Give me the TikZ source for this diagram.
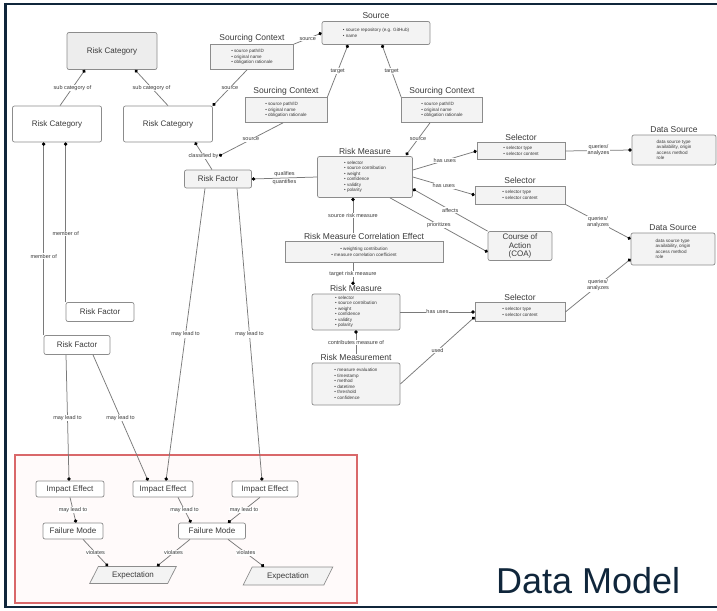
\documentclass[tikz,border=0pt]{standalone}
\usepackage{fontspec}
\setmainfont{Liberation Sans}
\usetikzlibrary{arrows.meta,positioning,shapes.geometric}
\definecolor{dmnavy}{HTML}{10263B}
\definecolor{dmgray}{HTML}{7A7A7A}
\definecolor{dmline}{HTML}{8C8C8C}
\definecolor{dmfill}{HTML}{F3F3F3}
\definecolor{dmtext}{HTML}{3A3A3A}
\definecolor{dmred}{HTML}{D9686A}

\begin{document}
\begin{tikzpicture}[x=1pt, y=-1pt,
    every node/.style={text=dmtext},
    entity/.style={draw=dmline, rounded corners=2pt, fill=dmfill, line width=0.7pt, font=\fontsize{8}{9}\selectfont, inner sep=1pt},
    box/.style={draw=dmline, rounded corners=2pt, fill=dmfill, line width=0.7pt, font=\fontsize{4.6}{5.5}\selectfont, align=left, inner sep=1pt},
    ttl/.style={font=\fontsize{8.5}{9}\selectfont, inner sep=0.5pt},
    lbl/.style={font=\fontsize{5.5}{6}\selectfont, fill=white, inner sep=0.6pt, align=center},
    link/.style={draw=dmgray, line width=0.75pt, -{Circle[length=3.4pt, color=black]}}]
      \useasboundingbox (0,0) rectangle (717,610);
      \fill[white] (0,0) rectangle (717,610);
      % slide frame
      \draw[dmnavy, line width=2pt] (717,4) -- (5,4) -- (5,607) -- (717,607);
      \draw[dmnavy, line width=3pt] (5.5,3) -- (5.5,608);
      \draw[dmred, line width=1.4pt, fill=red!2] (15,455) rectangle (357,603);

      % categories and factors
      \node[entity, minimum width=90, minimum height=37, fill=gray!14] (rcTop) at (112,51) {Risk Category};
      \node[entity, minimum width=89, minimum height=36, fill=white] (rcLeft) at (57,124) {Risk Category};
      \node[entity, minimum width=89, minimum height=36, fill=white] (rcMid) at (168,124) {Risk Category};
      \node[entity, minimum width=67, minimum height=18] (rfMid) at (218,179) {Risk Factor};
      \node[entity, minimum width=68, minimum height=19, fill=white] (rfA) at (100,312) {Risk Factor};
      \node[entity, minimum width=66, minimum height=19, fill=white] (rfB) at (77,345) {Risk Factor};
      \coordinate (rfHook) at (219,156);

      % sources
      \node[box, rounded corners=0pt, minimum width=83, minimum height=25] (scA) at (252,57) {• source path/ID\\ • original name\\ • obligation rationale};
      \node[ttl, above=1pt of scA] (scAt) {Sourcing Context};
      \node[box, minimum width=108, minimum height=23] (src) at (376,33) {• source repository (e.g. GitHub)\\ • name};
      \node[ttl, above=2pt of src] (srcT) {Source};
      \node[box, rounded corners=0pt, minimum width=82, minimum height=25] (scB) at (286,110) {• source path/ID\\ • original name\\ • obligation rationale};
      \node[ttl, above=1pt of scB] (scBt) {Sourcing Context};
      \node[box, rounded corners=0pt, minimum width=81, minimum height=25] (scC) at (442,110) {• source path/ID\\ • original name\\ • obligation rationale};
      \node[ttl, above=1pt of scC] (scCt) {Sourcing Context};

      % measures
      \node[box, minimum width=95, minimum height=41] (rmA) at (365,177) {• selector\\ • source contribution\\ • weight\\ • confidence\\ • validity\\ • polarity};
      \node[ttl, above=1pt of rmA] (rmAt) {Risk Measure};
      \node[box, align=center, rounded corners=0pt, minimum width=158, minimum height=21] (rmcE) at (364,252) {• weighting contribution\\ • measure correlation coefficient};
      \node[ttl, above=1pt of rmcE] (rmcEt) {Risk Measure Correlation Effect};
      \node[box, minimum width=88, minimum height=36] (rmB) at (356,312) {• selector\\ • source contribution\\ • weight\\ • confidence\\ • validity\\ • polarity};
      \node[ttl, above=1pt of rmB] (rmBt) {Risk Measure};
      \node[box, minimum width=88, minimum height=42] (rmt) at (356,384) {• measure evaluation\\ • timestamp\\ • method\\ • datetime\\ • threshold\\ • confidence};
      \node[ttl, above=1pt of rmt] (rmtT) {Risk Measurement};

      % selectors and data sources
      \node[box, rounded corners=0pt, minimum width=88, minimum height=17] (selA) at (521,151) {• selector type\\ • selector content};
      \node[ttl, above=1pt of selA] (selAt) {Selector};
      \node[box, rounded corners=0pt, minimum width=90, minimum height=18] (selB) at (520,195) {• selector type\\ • selector content};
      \node[ttl, above=1pt of selB] (selBt) {Selector};
      \node[box, rounded corners=0pt, minimum width=90, minimum height=19] (selC) at (520,312) {• selector type\\ • selector content};
      \node[ttl, above=1pt of selC] (selCt) {Selector};
      \node[entity, align=center, font=\fontsize{8}{8.8}\selectfont, inner sep=0.5pt, minimum width=64, minimum height=29] (coa) at (520,246) {Course of\\Action\\(COA)};
      \node[box, minimum width=84, minimum height=30] (dsA) at (674,150) {data source type\\ availability, origin\\ access method\\ role};
      \node[ttl, above=1pt of dsA] (dsAt) {Data Source};
      \node[box, minimum width=84, minimum height=32] (dsB) at (673,249) {data source type\\ availability, origin\\ access method\\ role};
      \node[ttl, above=1pt of dsB] (dsBt) {Data Source};

      % effects
      \node[entity, fill=white, minimum width=68, minimum height=16] (ieA) at (70,489) {Impact Effect};
      \node[entity, fill=white, minimum width=60, minimum height=16] (ieB) at (163,489) {Impact Effect};
      \node[entity, fill=white, minimum width=66, minimum height=16] (ieC) at (265,489) {Impact Effect};
      \node[entity, fill=white, minimum width=60, minimum height=16] (fmA) at (73,531) {Failure Mode};
      \node[entity, fill=white, minimum width=67, minimum height=16] (fmB) at (212,531) {Failure Mode};
      \node[entity, trapezium, trapezium left angle=60, trapezium right angle=120, trapezium stretches=true, rounded corners=0pt, minimum width=87, minimum height=17] (exA) at (133,575) {Expectation};
      \node[entity, trapezium, trapezium left angle=60, trapezium right angle=120, trapezium stretches=true, rounded corners=0pt, minimum width=90, minimum height=18] (exB) at (288,576) {Expectation};

      \node[anchor=base west, font=\fontsize{36}{40}\selectfont, text=dmnavy, inner sep=0pt] (dmTitle) at (496,593) {Data Model};

      % links
      \draw[link] ([xshift=3]rcLeft.north) -- ([xshift=-27]rcTop.south) node[lbl, midway]{sub category of};
      \draw[link] (rcMid.north) -- ([xshift=23]rcTop.south) node[lbl, midway]{sub category of};
      \draw[link] ([xshift=-6]rfMid.north) -- ([xshift=27]rcMid.south) node[lbl, midway]{classified by};
      \draw[link] ([xshift=-5]scA.south) -- (rcMid.north east) node[lbl, midway]{source};
      \draw[link] (scA.north east) -- (src.west) node[lbl, midway]{source};
      \draw[link] ([xshift=-3]scB.south) -- (rfHook) node[lbl, midway]{source};
      \draw[link] (scB.north east) -- ([xshift=-28]src.south) node[lbl, midway]{target};
      \draw[link] (scC.north west) -- ([xshift=6]src.south) node[lbl, midway]{target};
      \draw[link] ([xshift=-12]scC.south) -- ([xshift=41]rmAt.south) node[lbl, midway]{source};
      \draw[link] (rmA.west) -- (rfMid.east) node[lbl, midway, above=0.5pt]{qualifies} node[lbl, midway, below=0.5pt]{quantifies};
      \draw[link] ([xshift=-11]rmcEt.north) -- ([xshift=-12]rmA.south) node[lbl, midway]{source risk measure};
      \draw[link] ([xshift=-11]rmcE.south) -- ([xshift=-3]rmBt.north) node[lbl, midway]{target risk measure};
      \draw[link] (rmtT.north) -- (rmB.south) node[lbl, midway]{contributes measure of};
      \draw[link] ([yshift=7]rmA.east) -- (selA.west) node[lbl, midway]{has uses};
      \draw[link] (rmA.east) -- (selB.west) node[lbl, midway]{has uses};
      \draw[link] (coa.north west) -- ([yshift=-12]rmA.east) node[lbl, midway]{affects};
      \draw[link] ([xshift=25]rmA.south) -- ([yshift=-6]coa.west) node[lbl, midway]{prioritizes};
      \draw[link] (selA.east) -- (dsA.west) node[lbl, midway]{queries/\\analyzes};
      \draw[link] (selB.south east) -- ([yshift=10]dsB.west) node[lbl, midway]{queries/\\analyzes};
      \draw[link] (selC.east) -- ([yshift=-10]dsB.west) node[lbl, midway]{queries/\\analyzes};
      \draw[link] (rmB.east) -- (selC.west) node[lbl, midway]{has uses};
      \draw[link] (rmt.east) -- ([yshift=-5]selC.west) node[lbl, midway]{used};
      \draw[link] (rfA.north west) -- (rfA.north west |- rcLeft.south) node[lbl, pos=0.43]{member of};
      \draw[link] (rfB.north west) -- (rfB.north west |- rcLeft.south) node[lbl, pos=0.41]{member of};
      \draw[link] ([xshift=-11]rfB.south) -- ([xshift=-1]ieA.north) node[lbl, midway]{may lead to};
      \draw[link] ([xshift=16]rfB.south) -- ([xshift=-15]ieB.north) node[lbl, midway]{may lead to};
      \draw[link] ([xshift=-13]rfMid.south) -- ([xshift=3]ieB.north) node[lbl, midway]{may lead to};
      \draw[link] ([xshift=19]rfMid.south) -- ([xshift=-3]ieC.north) node[lbl, midway]{may lead to};
      \draw[link] (ieA.south) -- ([xshift=3]fmA.north) node[lbl, midway]{may lead to};
      \draw[link] ([xshift=15]ieB.south) -- ([xshift=-21]fmB.north) node[lbl, midway]{may lead to};
      \draw[link] ([xshift=-5]ieC.south) -- ([xshift=16]fmB.north) node[lbl, midway]{may lead to};
      \draw[link] ([xshift=10]fmA.south) -- ([xshift=-25]exA.north) node[lbl, midway]{violates};
      \draw[link] ([xshift=-22]fmB.south) -- ([xshift=24]exA.north) node[lbl, midway]{violates};
      \draw[link] ([xshift=16]fmB.south) -- ([xshift=-24]exB.north) node[lbl, midway]{violates};
    \end{tikzpicture}
\end{document}
